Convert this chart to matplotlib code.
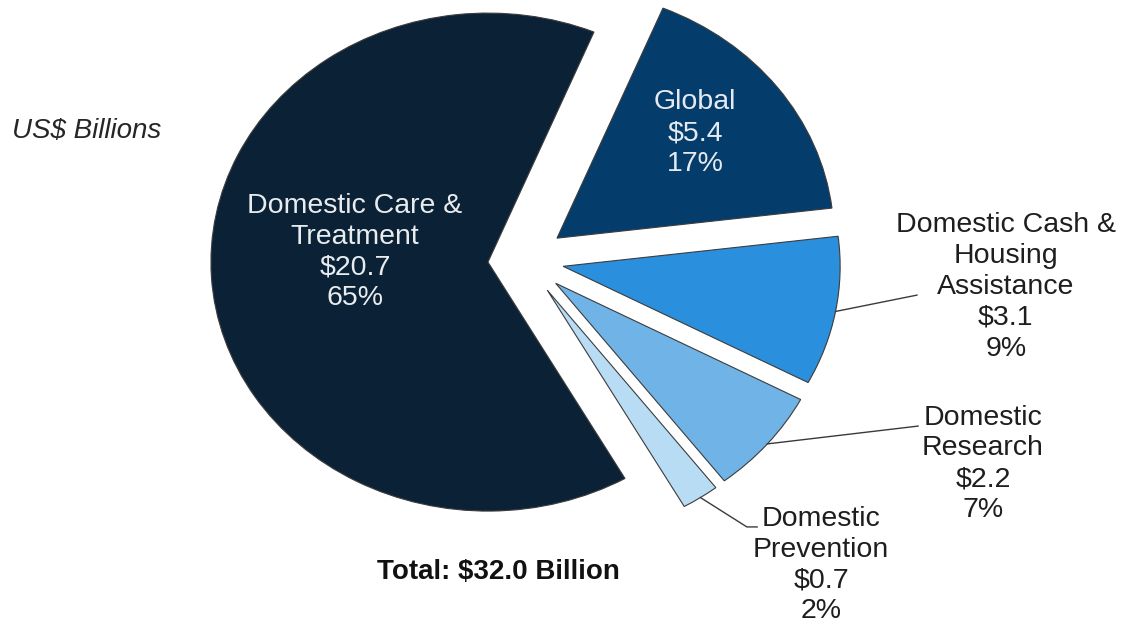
import numpy as np
import matplotlib
matplotlib.use("Agg")
import matplotlib.pyplot as plt

# ---- data ----
categories = ["Global", "Domestic Cash &\nHousing\nAssistance", "Domestic\nResearch",
              "Domestic\nPrevention", "Domestic Care &\nTreatment"]
values = [5.4, 3.1, 2.2, 0.7, 20.7]
percents = ["17%", "9%", "7%", "2%", "65%"]
total_label = "Total: $32.0 Billion"
unit_label = "US$ Billions"

colors = ["#043D6C", "#2A8FDD", "#6FB3E7", "#B9DCF5", "#0B2136"]
explode = [0.145, 0.14, 0.145, 0.145, 0.134]

plt.rcParams['font.family'] = ['Liberation Sans', 'DejaVu Sans']

W, H = 1125, 624
fig = plt.figure(figsize=(W / 100, H / 100), dpi=100)
ax = fig.add_axes([0, 0, 1, 1])

wedges, _ = ax.pie(values, explode=explode, colors=colors, startangle=67.5,
                   counterclock=False,
                   wedgeprops=dict(edgecolor="#3C3C3C", linewidth=0.8))

# stretched layout: pie centre at (525, 260) px, radius 277 px horizontally, 249 px vertically
cx, cy, rx, ry = 525, 260, 277, 249
ax.set_aspect('auto')
ax.set_xlim(-cx / rx, (W - cx) / rx)
ax.set_ylim(-(H - cy) / ry, cy / ry)
ax.axis('off')

fs = 20.5
ls = 1.245
label_text = [f"{c}\n${v:.1f}\n{p}" for c, v, p in zip(categories, values, percents)]

# inside labels
ax.text(0.614, 0.51, label_text[0], ha='center', va='center', fontsize=fs,
        color='#E6EAF0', linespacing=ls)
ax.text(-0.614, 0.032, label_text[4], ha='center', va='center', fontsize=fs,
        color='#E8ECEF', linespacing=ls)

# outside labels
out_pos = {1: (1.736, -0.108), 2: (1.653, -0.819), 3: (1.069, -1.225)}
for i, (tx, ty) in out_pos.items():
    ax.text(tx, ty, label_text[i], ha='center', va='center', fontsize=fs,
            color='#1E1E1E', linespacing=ls)

def arc_mid(w):
    th = np.deg2rad((w.theta1 + w.theta2) / 2)
    return w.center[0] + w.r * np.cos(th), w.center[1] + w.r * np.sin(th)

line_kw = dict(color='#3A3A3A', linewidth=1.0)
# Cash
x0, y0 = arc_mid(wedges[1])
ax.plot([x0, 1.415], [y0, -0.141], **line_kw)
# Research
x0, y0 = arc_mid(wedges[2])
ax.plot([x0, 1.419], [y0, -0.667], **line_kw)
# Prevention (elbow)
x0, y0 = arc_mid(wedges[3])
ax.plot([x0, 0.801, 0.838], [y0, -1.072, -1.072], **line_kw)

fig.text(12 / W, 1 - 131 / H, unit_label, ha='left', va='center', fontsize=20,
         style='italic', color='#262626')
fig.text(498 / W, 1 - 572 / H, total_label, ha='center', va='center', fontsize=20,
         fontweight='bold', color='#111111')

fig.savefig("out.png", dpi=100, facecolor='white')
